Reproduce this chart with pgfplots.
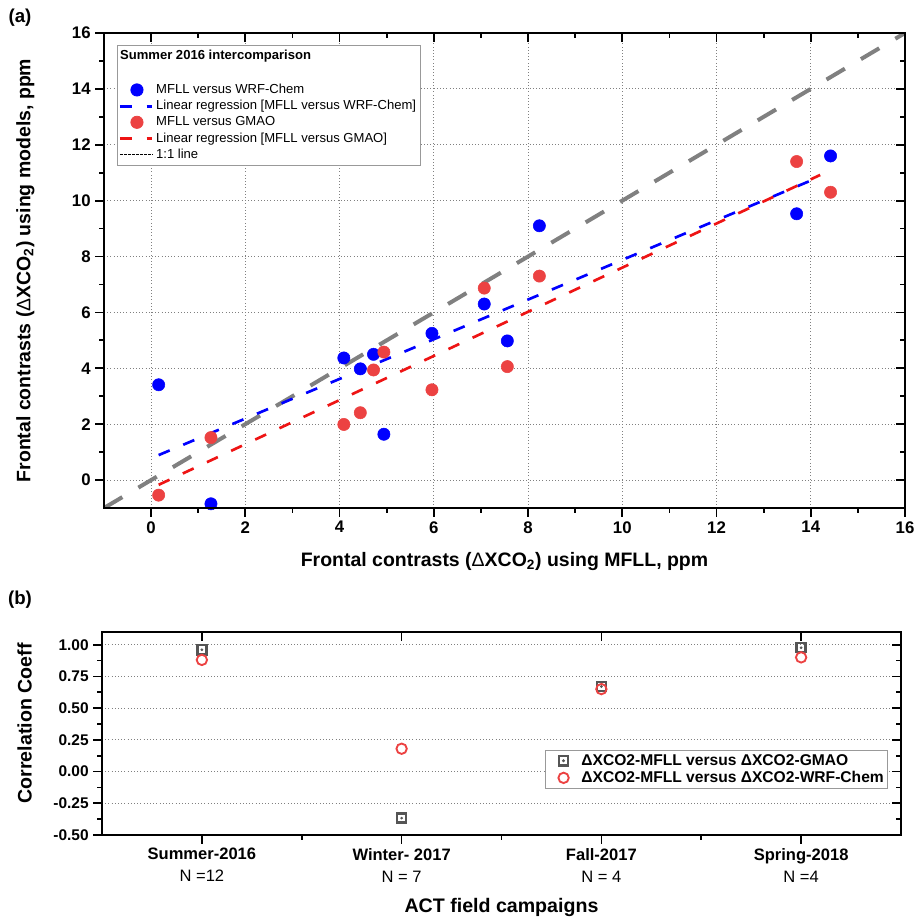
\documentclass[border=0pt]{standalone}
\usepackage{fontspec}
\setmainfont{Liberation Sans}
\usepackage{pgfplots}
\usepackage{pgfplotstable}
\pgfplotsset{compat=1.18}
\definecolor{ptblue}{RGB}{0,0,255}
\definecolor{ptred}{RGB}{236,66,66}
\definecolor{lnred}{RGB}{238,20,20}
\definecolor{onegray}{RGB}{128,128,128}
\definecolor{gmao}{RGB}{85,85,85}

\pgfplotstableread{
x y
0.16 3.41
1.27 -0.85
4.09 4.37
4.44 3.98
4.72 4.50
4.94 1.64
5.96 5.25
7.07 6.30
7.56 4.98
8.24 9.10
13.70 9.53
14.42 11.60
}\wrfdata

\pgfplotstableread{
x y
0.16 -0.54
1.27 1.52
4.09 1.99
4.44 2.41
4.72 3.94
4.94 4.58
5.96 3.23
7.07 6.87
7.56 4.06
8.24 7.30
13.70 11.40
14.42 10.30
}\gmaodata

\pgfplotstableread{
x gmao wrf
0 0.96 0.88
1 -0.367 0.18
2 0.67 0.65
3 0.976 0.90
}\corrdata

\pgfplotsset{
  myaxis/.style={
    scale only axis,
    axis line style={line width=1.4pt},
    every tick/.style={black, line width=1.3pt},
    major tick length=6.5pt,
    minor tick length=3.5pt,
    /pgf/number format/assume math mode=true,
  },
}

\begin{document}
\begin{tikzpicture}
\path[use as bounding box] (0,0) rectangle (693pt,-689.25pt);

% ---------------- Panel (a) ----------------
\begin{axis}[myaxis,
  at={(78pt,-381pt)}, anchor=south west,
  width=600.75pt, height=356.25pt,
  xmin=-1, xmax=16, ymin=-1, ymax=16,
  xtick={0,2,...,16}, ytick={0,2,...,16},
  minor tick num=1,
  grid=major, grid style={dotted, gray, line width=0.8pt},
  tick align=outside, xtick pos=left, ytick pos=left,
  tick label style={font=\bfseries\fontsize{12.6}{15}\selectfont},
  label style={font=\bfseries\fontsize{14.6}{17}\selectfont},
  xlabel={Frontal contrasts ({\mdseries Δ}XCO\textsubscript{2}) using MFLL, ppm},
  ylabel={Frontal contrasts ({\mdseries Δ}XCO\textsubscript{2}) using models, ppm},
  xlabel style={at={(axis description cs:0.5,-0.112)}, anchor=center},
  ylabel style={at={(axis description cs:-0.098,0.5)}, anchor=center},
  legend style={at={(0.016,0.975)}, anchor=north west, draw=gray!80, line width=0.6pt,
    font=\fontsize{9.8}{12}\selectfont, inner xsep=1pt, inner ysep=1.5pt, row sep=-0.4pt},
  legend cell align=left,
  legend image code/.code={\draw[#1] (0cm,0cm) -- (0.85cm,0cm);},
]
\addplot[onegray, line width=3pt, dash pattern=on 16pt off 14pt, forget plot] coordinates {(-1,-1) (16,16)};
\addplot[ptblue, line width=2pt, dash pattern=on 9pt off 11pt, forget plot] coordinates {(0.16,0.894) (14.2,10.86)};
\addplot[lnred, line width=2pt, dash pattern=on 9pt off 11pt, forget plot] coordinates {(0.16,-0.17) (14.2,10.92)};
\addplot[only marks, mark=*, mark size=4.6pt, ptblue, mark options={draw=none, fill=ptblue}, forget plot] table[x=x,y=y] {\wrfdata};
\addplot[only marks, mark=*, mark size=4.6pt, ptred, mark options={draw=none, fill=ptred}, forget plot] table[x=x,y=y] {\gmaodata};

\addlegendimage{empty legend}
\addlegendentry{\hspace*{-0.95cm}\textbf{Summer 2016 intercomparison}}
\addlegendimage{empty legend}
\addlegendentry{\strut}
\addlegendimage{legend image code/.code={\path[draw=none,fill=none] (0cm,0cm) -- (0.85cm,0cm); \fill[ptblue] (0.45cm,0cm) circle (4.6pt);}}
\addlegendentry{MFLL versus WRF-Chem}
\addlegendimage{ptblue, line width=2pt, dash pattern=on 9pt off 11pt}
\addlegendentry{Linear regression [MFLL versus WRF-Chem]}
\addlegendimage{legend image code/.code={\path[draw=none,fill=none] (0cm,0cm) -- (0.85cm,0cm); \fill[ptred] (0.45cm,0cm) circle (4.6pt);}}
\addlegendentry{MFLL versus GMAO}
\addlegendimage{lnred, line width=2pt, dash pattern=on 9pt off 11pt}
\addlegendentry{Linear regression [MFLL versus GMAO]}
\addlegendimage{black, line width=0.5pt, dash pattern=on 2pt off 1pt}
\addlegendentry{1:1 line}
\end{axis}
% inner ticks on top/right for panel (a)
\begin{axis}[myaxis,
  at={(78pt,-381pt)}, anchor=south west,
  width=600.75pt, height=356.25pt,
  xmin=-1, xmax=16, ymin=-1, ymax=16,
  xtick={0,2,...,16}, ytick={0,2,...,16},
  minor tick num=1,
  tick align=inside, xtick pos=right, ytick pos=right,
  xticklabels={}, yticklabels={},
]
\addplot[draw=none, forget plot] coordinates {(0,0)};
\end{axis}

% ---------------- Panel (b) ----------------
\begin{axis}[myaxis,
  at={(76.5pt,-626.25pt)}, anchor=south west,
  width=599.25pt, height=152.25pt,
  xmin=-0.5, xmax=3.5, ymin=-0.5, ymax=1.1,
  xtick={0,1,2,3}, minor xtick={0.5,1.5,2.5},
  ytick={-0.5,-0.25,0,0.25,0.5,0.75,1},
  minor ytick={-0.375,-0.125,0.125,0.375,0.625,0.875},
  ymajorgrids, grid style={dotted, gray, line width=0.8pt},
  tick align=outside, xtick pos=left, ytick pos=left,
  yticklabel style={font=\bfseries\fontsize{11.6}{13}\selectfont,
    /pgf/number format/.cd, fixed, fixed zerofill, precision=2},
  xticklabel style={font=\bfseries\fontsize{12.4}{16.5}\selectfont, align=center},
  xticklabels={{Summer-2016\\\mdseries N =12},{Winter- 2017\\\mdseries N = 7},{Fall-2017\\\mdseries N = 4},{Spring-2018\\\mdseries N =4}},
  label style={font=\bfseries\fontsize{14.7}{17}\selectfont},
  xlabel={ACT field campaigns},
  ylabel={Correlation Coeff},
  xlabel style={at={(axis description cs:0.5,-0.355)}, anchor=center},
  ylabel style={at={(axis description cs:-0.097,0.55)}, anchor=center},
  legend style={at={(0.984,0.227)}, anchor=south east, draw=gray!80, line width=0.6pt,
    font=\bfseries\fontsize{11.7}{13.5}\selectfont, inner xsep=1pt, inner ysep=1pt, row sep=-1pt},
  legend cell align=left,
]
\addplot[only marks, mark=square, mark size=3.4pt, gmao, line width=1.8pt, forget plot] table[x=x,y=gmao] {\corrdata};
\addplot[only marks, mark=*, mark size=0.8pt, gmao, forget plot] table[x=x,y=gmao] {\corrdata};
\addplot[only marks, mark=o, mark size=3.9pt, ptred, line width=1.4pt, forget plot] table[x=x,y=wrf] {\corrdata};

\addlegendimage{legend image code/.code={\path[draw=none,fill=none] (0cm,0cm) -- (0.85cm,0cm); \draw[gmao, line width=1.8pt] (0.45cm-3.4pt,-3.4pt) rectangle ++(6.8pt,6.8pt); \fill[gmao] (0.45cm,0cm) circle (0.8pt);}}
\addlegendentry{ΔXCO2-MFLL versus ΔXCO2-GMAO}
\addlegendimage{legend image code/.code={\path[draw=none,fill=none] (0cm,0cm) -- (0.85cm,0cm); \draw[ptred, line width=1.4pt] (0.45cm,0cm) circle (3.9pt);}}
\addlegendentry{ΔXCO2-MFLL versus ΔXCO2-WRF-Chem}
\end{axis}
\begin{axis}[myaxis,
  at={(76.5pt,-626.25pt)}, anchor=south west,
  width=599.25pt, height=152.25pt,
  xmin=-0.5, xmax=3.5, ymin=-0.5, ymax=1.1,
  xtick={0,1,2,3},
  ytick={-0.5,-0.25,0,0.25,0.5,0.75,1},
  minor ytick={-0.375,-0.125,0.125,0.375,0.625,0.875},
  tick align=inside, xtick pos=right, ytick pos=right,
  xticklabels={}, yticklabels={},
]
\addplot[draw=none, forget plot] coordinates {(0,0)};
\end{axis}

\node[font=\bfseries\fontsize{14}{16}\selectfont] at (15pt,-13.5pt) {(a)};
\node[font=\bfseries\fontsize{14}{16}\selectfont] at (15pt,-450pt) {(b)};
\end{tikzpicture}
\end{document}
